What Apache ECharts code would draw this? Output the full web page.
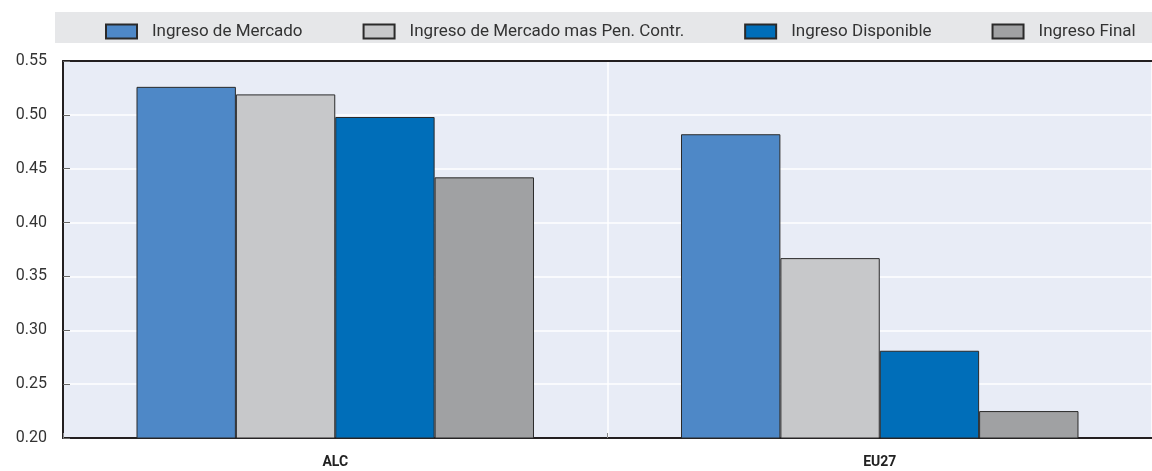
<!DOCTYPE html>
<html>
<head>
<meta charset="utf-8">
<script src="https://cdn.jsdelivr.net/npm/echarts@6/dist/echarts.min.js"></script>
<style>html,body{margin:0;padding:0;background:#fff}#c{width:1152px;height:471px}</style>
</head>
<body>
<div id="c"></div>
<script>
const categories = ['ALC', 'EU27'];
const seriesNames = ['Ingreso de Mercado', 'Ingreso de Mercado mas Pen. Contr.', 'Ingreso Disponible', 'Ingreso Final'];
const ingresoMercado = [0.526, 0.482];
const ingresoMercadoPen = [0.519, 0.367];
const ingresoDisponible = [0.498, 0.281];
const ingresoFinal = [0.442, 0.225];
const yTicks = [0.20, 0.25, 0.30, 0.35, 0.40, 0.45, 0.50, 0.55];
const colors = ['#4E88C7', '#C7C8CA', '#006EB9', '#A0A1A3'];

const FONT = "'Liberation Sans Narrow', 'Arial Narrow', 'Roboto', sans-serif";
const values = [ingresoMercado, ingresoMercadoPen, ingresoDisponible, ingresoFinal];

const chart = echarts.init(document.getElementById('c'), null, {renderer: 'canvas'});
chart.setOption({
  animation: false,
  textStyle: {fontFamily: FONT},
  graphic: [{
    type: 'rect', left: 55, top: 12, z: -10,
    shape: {width: 1097, height: 31},
    style: {fill: '#E6E7E9'}
  }],
  legend: {
    left: 100, top: 18,
    itemWidth: 31, itemHeight: 14, itemGap: 60,
    icon: 'rect',
    textStyle: {fontFamily: FONT, fontSize: 17, color: '#333', padding: [0, 0, 0, 10]},
    data: seriesNames
  },
  grid: {left: 63, top: 61, width: 1104, height: 377, show: true, backgroundColor: '#E8ECF6', borderWidth: 0},
  xAxis: [{
    type: 'category', data: categories, position: 'bottom',
    axisLine: {lineStyle: {color: '#231F20', width: 2}},
    axisTick: {show: true, inside: true, length: 5, lineStyle: {color: '#888'}},
    splitLine: {show: true, lineStyle: {color: '#FFFFFF', width: 1.5}},
    axisLabel: {fontFamily: FONT, fontSize: 14, fontWeight: 'bold', color: '#222', margin: 17}
  }, {
    type: 'category', data: categories, position: 'top',
    axisLine: {show: true, lineStyle: {color: '#231F20', width: 2}},
    axisTick: {show: false}, axisLabel: {show: false}, splitLine: {show: false}
  }],
  yAxis: {
    type: 'value', min: yTicks[0], max: yTicks[yTicks.length - 1], interval: 0.05,
    axisLine: {show: true, lineStyle: {color: '#231F20', width: 2}},
    axisTick: {show: true, inside: true, length: 7, lineStyle: {color: '#666'}},
    splitLine: {show: true, lineStyle: {color: '#FFFFFF', width: 1.5}},
    axisLabel: {fontFamily: FONT, fontSize: 16, color: '#333', margin: 16, formatter: v => v.toFixed(2)}
  },
  series: seriesNames.map((n, i) => ({
    name: n, type: 'bar', data: values[i], xAxisIndex: 0,
    barGap: '0%', barCategoryGap: '27%',
    itemStyle: {color: colors[i], borderColor: '#2A2A2A', borderWidth: 1}
  }))
});
</script>
</body>
</html>
